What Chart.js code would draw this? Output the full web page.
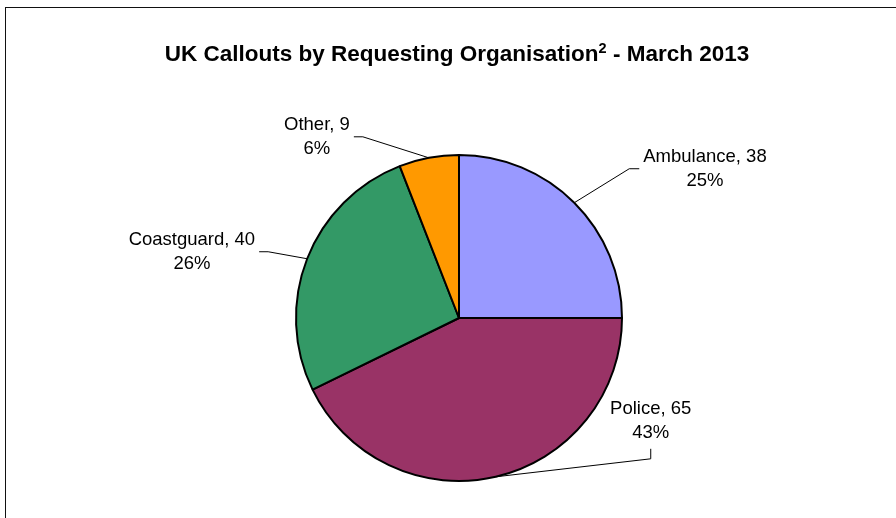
<!DOCTYPE html>
<html>
<head>
<meta charset="utf-8">
<script src="https://cdn.jsdelivr.net/npm/chart.js@4.4.1/dist/chart.umd.min.js"></script>
<style>
  html, body { margin: 0; padding: 0; background: #fff; }
  .frame { position: relative; width: 896px; height: 518px; overflow: hidden; }
  .frame::before {
    content: ''; position: absolute; left: 5px; top: 7px; right: -10px; bottom: -10px;
    border-left: 1px solid #111; border-top: 1px solid #111;
  }
  canvas { position: absolute; left: 0; top: 0; }
</style>
</head>
<body>
<div class="frame"><canvas id="pie" width="896" height="518"></canvas></div>
<script>
const categories = ['Ambulance', 'Police', 'Coastguard', 'Other'];
const callouts = [38, 65, 40, 9];
const sliceColours = ['#9999ff', '#993366', '#339966', '#ff9900'];

// leader line shape per slice: elbow offset from the arc edge, then a short tail
const leaders = [
  { elbow: [55, -34], tail: [10, 0], side: 'right' },
  { elbow: [155, -18], tail: [0, -10], side: 'above' },
  { elbow: [-39, -7], tail: [-9, 0], side: 'left' },
  { elbow: [-66, -21], tail: [-9, 0], side: 'left' }
];

const FONT = '"Liberation Sans", Arial, Helvetica, sans-serif';
const total = callouts.reduce((a, b) => a + b, 0);

const titlePlugin = {
  id: 'titleWithNote',
  afterDraw(chart) {
    const ctx = chart.ctx;
    const main = 'UK Callouts by Requesting Organisation';
    const note = '2';
    const rest = ' - March 2013';
    const cx = 457;
    const baseline = 61;
    ctx.save();
    ctx.fillStyle = '#000';
    ctx.textBaseline = 'alphabetic';
    ctx.textAlign = 'left';
    ctx.font = `bold 22.5px ${FONT}`;
    const w1 = ctx.measureText(main).width;
    const w3 = ctx.measureText(rest).width;
    ctx.font = `bold 14.5px ${FONT}`;
    const w2 = ctx.measureText(note).width;
    let x = cx - (w1 + w2 + w3) / 2;
    ctx.font = `bold 22.5px ${FONT}`;
    ctx.fillText(main, x, baseline);
    x += w1;
    ctx.font = `bold 14.5px ${FONT}`;
    ctx.fillText(note, x, baseline - 8);
    x += w2;
    ctx.font = `bold 22.5px ${FONT}`;
    ctx.fillText(rest, x, baseline);
    ctx.restore();
  }
};

const leaderLabels = {
  id: 'leaderLabels',
  afterDatasetsDraw(chart) {
    const ctx = chart.ctx;
    const meta = chart.getDatasetMeta(0);
    const lineH = 24;
    ctx.save();
    ctx.font = `18.5px ${FONT}`;
    ctx.fillStyle = '#000';
    ctx.strokeStyle = '#000';
    ctx.lineWidth = 1;
    meta.data.forEach((arc, i) => {
      const { x, y, startAngle, endAngle, outerRadius } = arc.getProps(['x', 'y', 'startAngle', 'endAngle', 'outerRadius'], true);
      const mid = (startAngle + endAngle) / 2;
      const ax = x + Math.cos(mid) * outerRadius;
      const ay = y + Math.sin(mid) * outerRadius;
      const cfg = leaders[i];
      const ex = ax + cfg.elbow[0];
      const ey = ay + cfg.elbow[1];
      const tx = ex + cfg.tail[0];
      const ty = ey + cfg.tail[1];

      ctx.beginPath();
      ctx.moveTo(ax, ay);
      ctx.lineTo(ex, ey);
      ctx.lineTo(tx, ty);
      ctx.stroke();

      const pct = Math.round(callouts[i] / total * 100);
      const lines = [`${categories[i]}, ${callouts[i]}`, `${pct}%`];
      const blockW = Math.max(...lines.map((l) => ctx.measureText(l).width));
      ctx.textAlign = 'center';

      if (cfg.side === 'above') {
        ctx.textBaseline = 'alphabetic';
        ctx.fillText(lines[0], tx, ty - 11 - lineH);
        ctx.fillText(lines[1], tx, ty - 11);
      } else {
        const centreX = cfg.side === 'right' ? tx + 4 + blockW / 2 : tx - 4 - blockW / 2;
        ctx.textBaseline = 'middle';
        ctx.fillText(lines[0], centreX, ty - lineH / 2);
        ctx.fillText(lines[1], centreX, ty + lineH / 2);
      }
    });
    ctx.restore();
  }
};

new Chart(document.getElementById('pie').getContext('2d'), {
  type: 'pie',
  data: {
    labels: categories,
    datasets: [{
      data: callouts,
      backgroundColor: sliceColours,
      borderColor: '#000',
      borderWidth: 2,
      borderAlign: 'center'
    }]
  },
  options: {
    responsive: false,
    animation: false,
    devicePixelRatio: 1,
    layout: { padding: { top: 154, bottom: 36, left: 200, right: 178 } },
    plugins: {
      legend: { display: false },
      tooltip: { enabled: false },
      title: { display: false }
    }
  },
  plugins: [titlePlugin, leaderLabels]
});
</script>
</body>
</html>
